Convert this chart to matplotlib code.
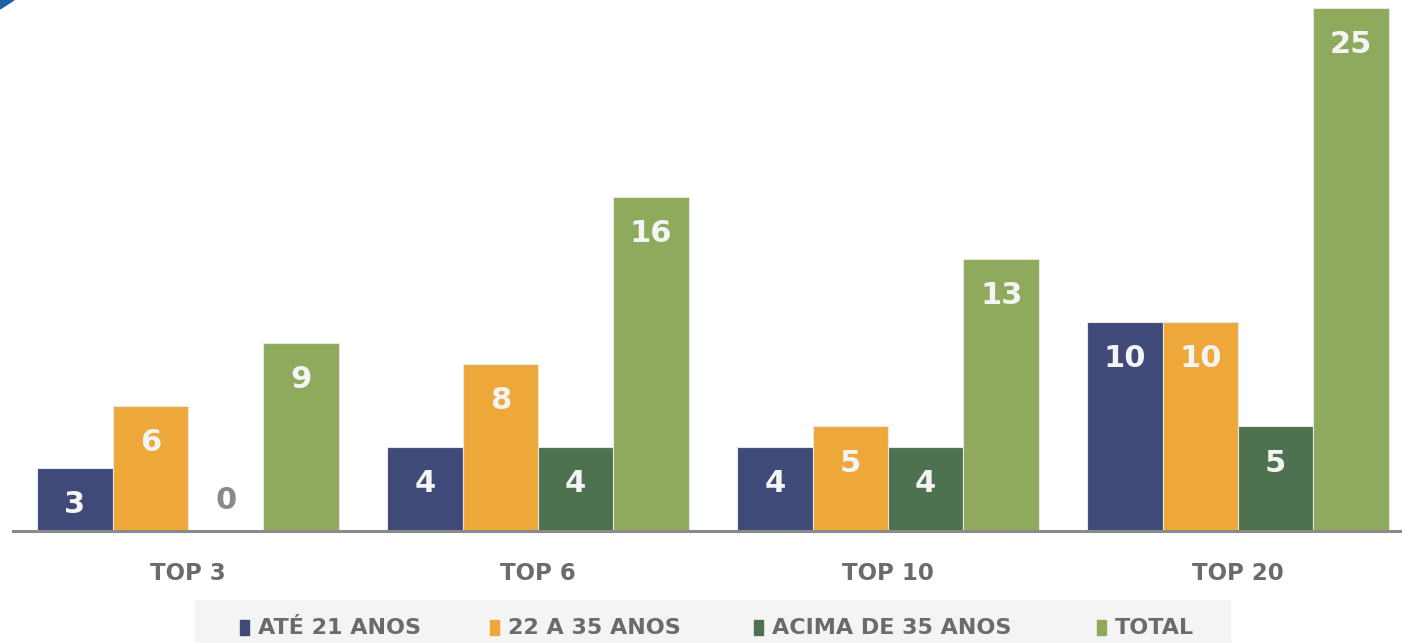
import numpy as np
import matplotlib.pyplot as plt
from matplotlib.patches import Rectangle, Polygon

# Data
categories = ["TOP 3", "TOP 6", "TOP 10", "TOP 20"]
series_names = ["ATÉ 21 ANOS", "22 A 35 ANOS", "ACIMA DE 35 ANOS", "TOTAL"]
ate_21 = [3, 4, 4, 10]
de_22_a_35 = [6, 8, 5, 10]
acima_35 = [0, 4, 4, 5]
total = [9, 16, 13, 25]

series = [ate_21, de_22_a_35, acima_35, total]
colors = ["#3f4a78", "#eea83a", "#4e7150", "#8faa5c"]
text_gray = "#6b6b6b"

fig = plt.figure(figsize=(14.02, 6.43), dpi=100)
ax = fig.add_axes([13 / 1402, 1 - 531 / 643, 1 - 13 / 1402, 531 / 643])

x = np.arange(len(categories))
w = 0.2157
for i, (vals, col) in enumerate(zip(series, colors)):
    pos = x + (i - 1.5) * w
    ax.bar(pos, vals, width=w, color=col, edgecolor="#e6e6e6", linewidth=0.8)
    for px, v in zip(pos, vals):
        if v > 0:
            ax.text(px, v - 1.75, str(v), ha="center", va="center",
                    color="#f4f4f4", fontsize=22, fontweight="bold")
        else:
            ax.text(px, 1.45, str(v), ha="center", va="center",
                    color="#8a8a8a", fontsize=22, fontweight="bold")

ax.set_xlim(-0.5, -0.5 + 1389 / 350)
ax.set_ylim(0, 25.4)
for s in ["top", "right", "left"]:
    ax.spines[s].set_visible(False)
ax.spines["bottom"].set_color("#8a8a8a")
ax.spines["bottom"].set_linewidth(2.2)
ax.set_yticks([])
ax.set_xticks(x)
ax.set_xticklabels(categories, fontsize=16.5, fontweight="bold", color=text_gray)
ax.tick_params(axis="x", length=0, pad=22)

# corner accent
fig.patches.append(Polygon([[0, 1], [14 / 1402, 1], [0, 1 - 9 / 643]],
                           closed=True, transform=fig.transFigure,
                           color="#1f5fa3", zorder=5))

# legend strip
fig.patches.append(Rectangle((195 / 1402, 0), (1230 - 195) / 1402, 43 / 643,
                             transform=fig.transFigure, color="#f4f4f4", zorder=0))
marker_x = [240, 490, 754, 1097]
for mx, name, col in zip(marker_x, series_names, colors):
    fig.patches.append(Rectangle((mx / 1402, 8 / 643), 9 / 1402, 15 / 643,
                                 transform=fig.transFigure, color=col, zorder=2))
    fig.text((mx + 18) / 1402, 15 / 643, name, ha="left", va="center",
             fontsize=16, fontweight="bold", color=text_gray)

fig.savefig("out.png", dpi=100)
